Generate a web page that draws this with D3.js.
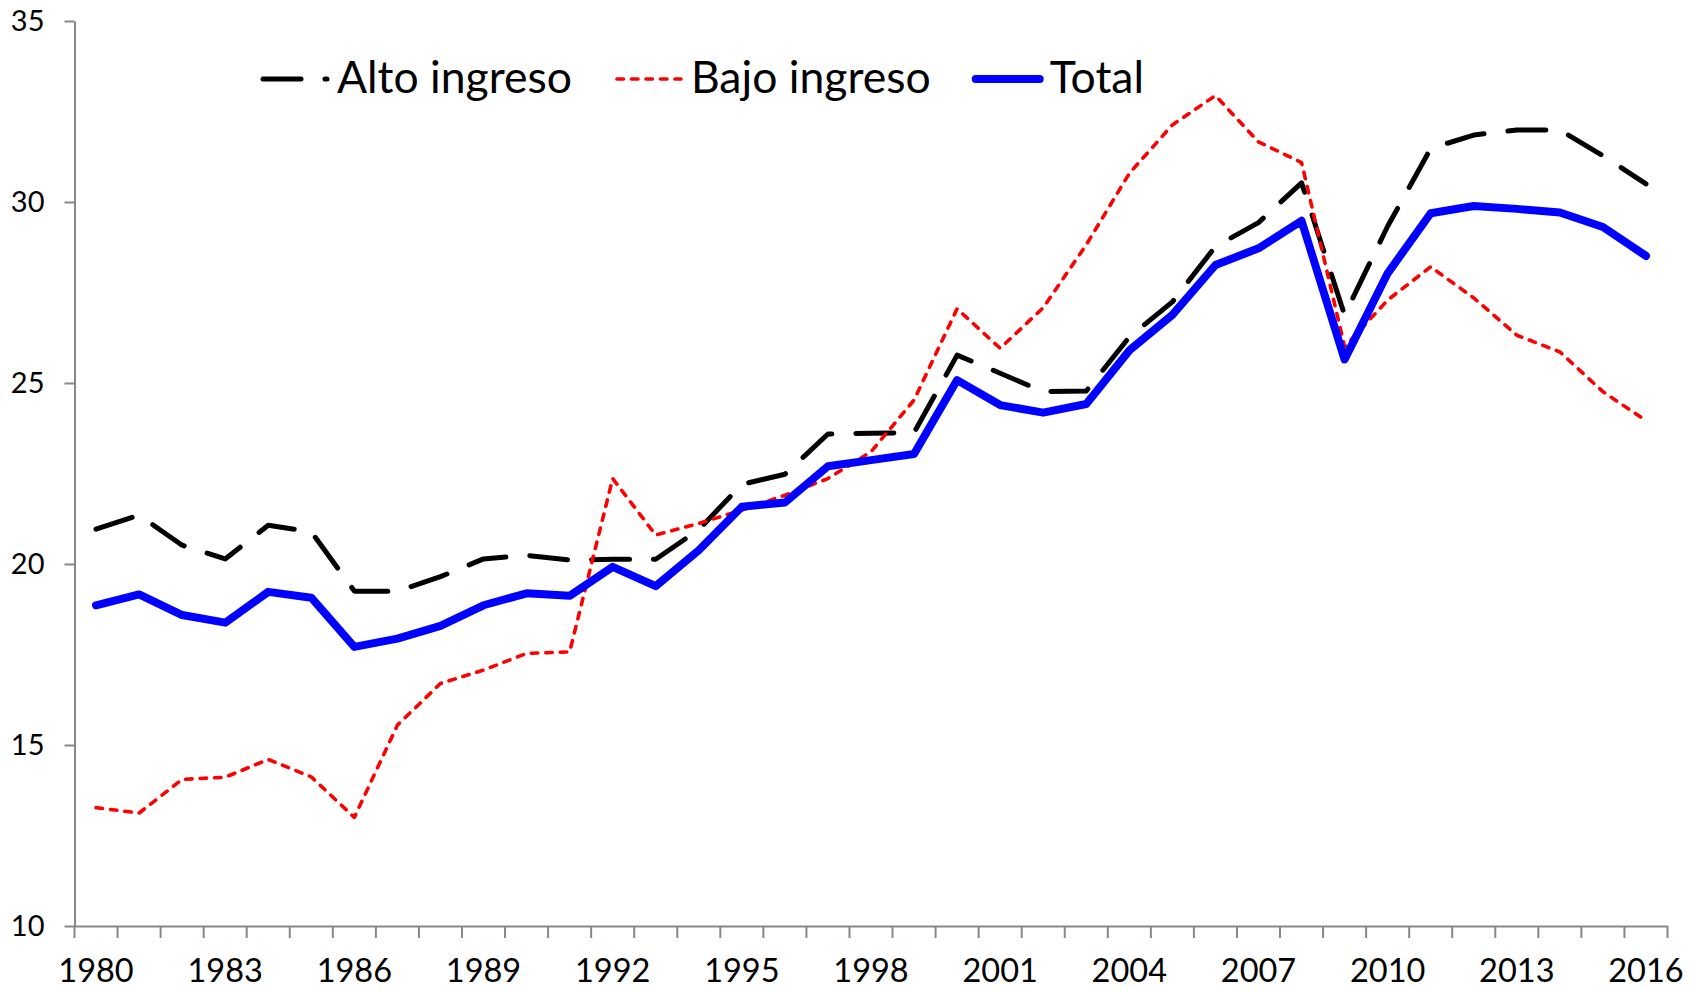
<!DOCTYPE html>
<html>
<head>
<meta charset="utf-8">
<script src="https://cdn.jsdelivr.net/npm/d3@7"></script>
<style>
  body { margin: 0; background: #fff; }
  svg { display: block; }
  svg text { font-family: Lato, "Open Sans", sans-serif; }
  .axis path, .axis line { stroke: #878787; stroke-width: 2; }
  .axis text { fill: #000; }
</style>
</head>
<body>
<script>
var years = d3.range(1980, 2017);

var alto = [20.96, 21.35, 20.52, 20.14, 21.07, 20.89, 19.25, 19.25, 19.65, 20.14, 20.24, 20.11,
            20.13, 20.13, 20.95, 22.2, 22.48, 23.59, 23.61, 23.63, 25.77, 25.27, 24.76, 24.78,
            26.27, 27.24, 28.77, 29.43, 30.53, 26.88, 29.33, 31.48, 31.85, 31.99, 31.99, 31.28, 30.5];

var bajo = [13.27, 13.12, 14.05, 14.11, 14.6, 14.12, 13.0, 15.55, 16.7, 17.07, 17.53, 17.57,
            22.36, 20.8, 21.12, 21.49, 21.9, 22.36, 23.1, 24.53, 27.05, 25.96, 27.08, 28.82,
            30.79, 32.13, 32.94, 31.66, 31.09, 26.0, 27.29, 28.21, 27.35, 26.32, 25.86, 24.76, 23.96];

var total = [18.86, 19.16, 18.59, 18.38, 19.23, 19.07, 17.71, 17.94, 18.29, 18.86, 19.19, 19.12,
             19.92, 19.39, 20.38, 21.58, 21.7, 22.7, 22.87, 23.04, 25.08, 24.39, 24.18, 24.42,
             25.9, 26.88, 28.26, 28.72, 29.48, 25.65, 28.03, 29.69, 29.89, 29.81, 29.71, 29.31, 28.51];

var seriesNames = ["Alto ingreso", "Bajo ingreso", "Total"];
var yTicks = [10, 15, 20, 25, 30, 35];
var xLabelYears = years.filter(function(d) { return (d - 1980) % 3 === 0; });

var width = 1703, height = 990;
var plotLeft = 74.5, plotRight = 1667.5, plotTop = 21, plotBottom = 926;

var svg = d3.select("body").append("svg")
   .attr("width", width)
   .attr("height", height);

var x = d3.scaleBand().domain(years).range([plotLeft, plotRight]).padding(0);
var y = d3.scaleLinear().domain([10, 35]).range([plotBottom, plotTop]);

// y axis
var yAxis = d3.axisLeft(y).tickValues(yTicks).tickSize(10).tickSizeOuter(0).tickPadding(20);
svg.append("g")
   .attr("class", "axis")
   .attr("transform", "translate(" + plotLeft + ",0)")
   .call(yAxis)
   .selectAll("text")
   .style("font-size", "29px");

// x axis: labels at category centres, ticks between categories
var xAxis = d3.axisBottom(x).tickValues(xLabelYears).tickSize(0).tickSizeOuter(0).tickPadding(33);
var gx = svg.append("g")
   .attr("class", "axis")
   .attr("transform", "translate(0," + plotBottom + ")")
   .call(xAxis);
gx.selectAll("text").style("font-size", "32.5px");
gx.selectAll(".tick line").remove();

var edges = years.map(function(d) { return x(d); }).concat([x.range()[1]]);
gx.selectAll(".edge")
   .data(edges)
   .enter().append("line")
   .attr("class", "edge")
   .attr("x1", function(d) { return d; })
   .attr("x2", function(d) { return d; })
   .attr("y1", 0)
   .attr("y2", 12);

// lines
var styles = [
   { color: "#000000", w: 5, dash: "38,24" },
   { color: "#ff0000", w: 3.6, dash: "6.5,8" },
   { color: "#0000ff", w: 8, dash: null }
];
var allSeries = [alto, bajo, total];

var line = d3.line()
   .x(function(d, i) { return x(years[i]) + x.bandwidth() / 2; })
   .y(function(d) { return y(d); });

allSeries.forEach(function(s, i) {
   svg.append("path")
      .datum(s)
      .attr("fill", "none")
      .attr("stroke", styles[i].color)
      .attr("stroke-width", styles[i].w)
      .attr("stroke-linejoin", "round")
      .attr("stroke-linecap", "round")
      .attr("stroke-dasharray", styles[i].dash)
      .attr("d", line);
});

// legend
var legend = svg.append("g");
var cursor = 263;
seriesNames.forEach(function(name, i) {
   legend.append("line")
      .attr("x1", cursor)
      .attr("x2", cursor + 64)
      .attr("y1", 79)
      .attr("y2", 79)
      .attr("stroke", styles[i].color)
      .attr("stroke-width", styles[i].w)
      .attr("stroke-linecap", "round")
      .attr("stroke-dasharray", styles[i].dash);
   var t = legend.append("text")
      .attr("x", cursor + 74)
      .attr("y", 93)
      .style("font-size", "44.5px")
      .attr("fill", "#000")
      .text(name);
   cursor = cursor + 74 + t.node().getComputedTextLength() + 45;
});
</script>
</body>
</html>
